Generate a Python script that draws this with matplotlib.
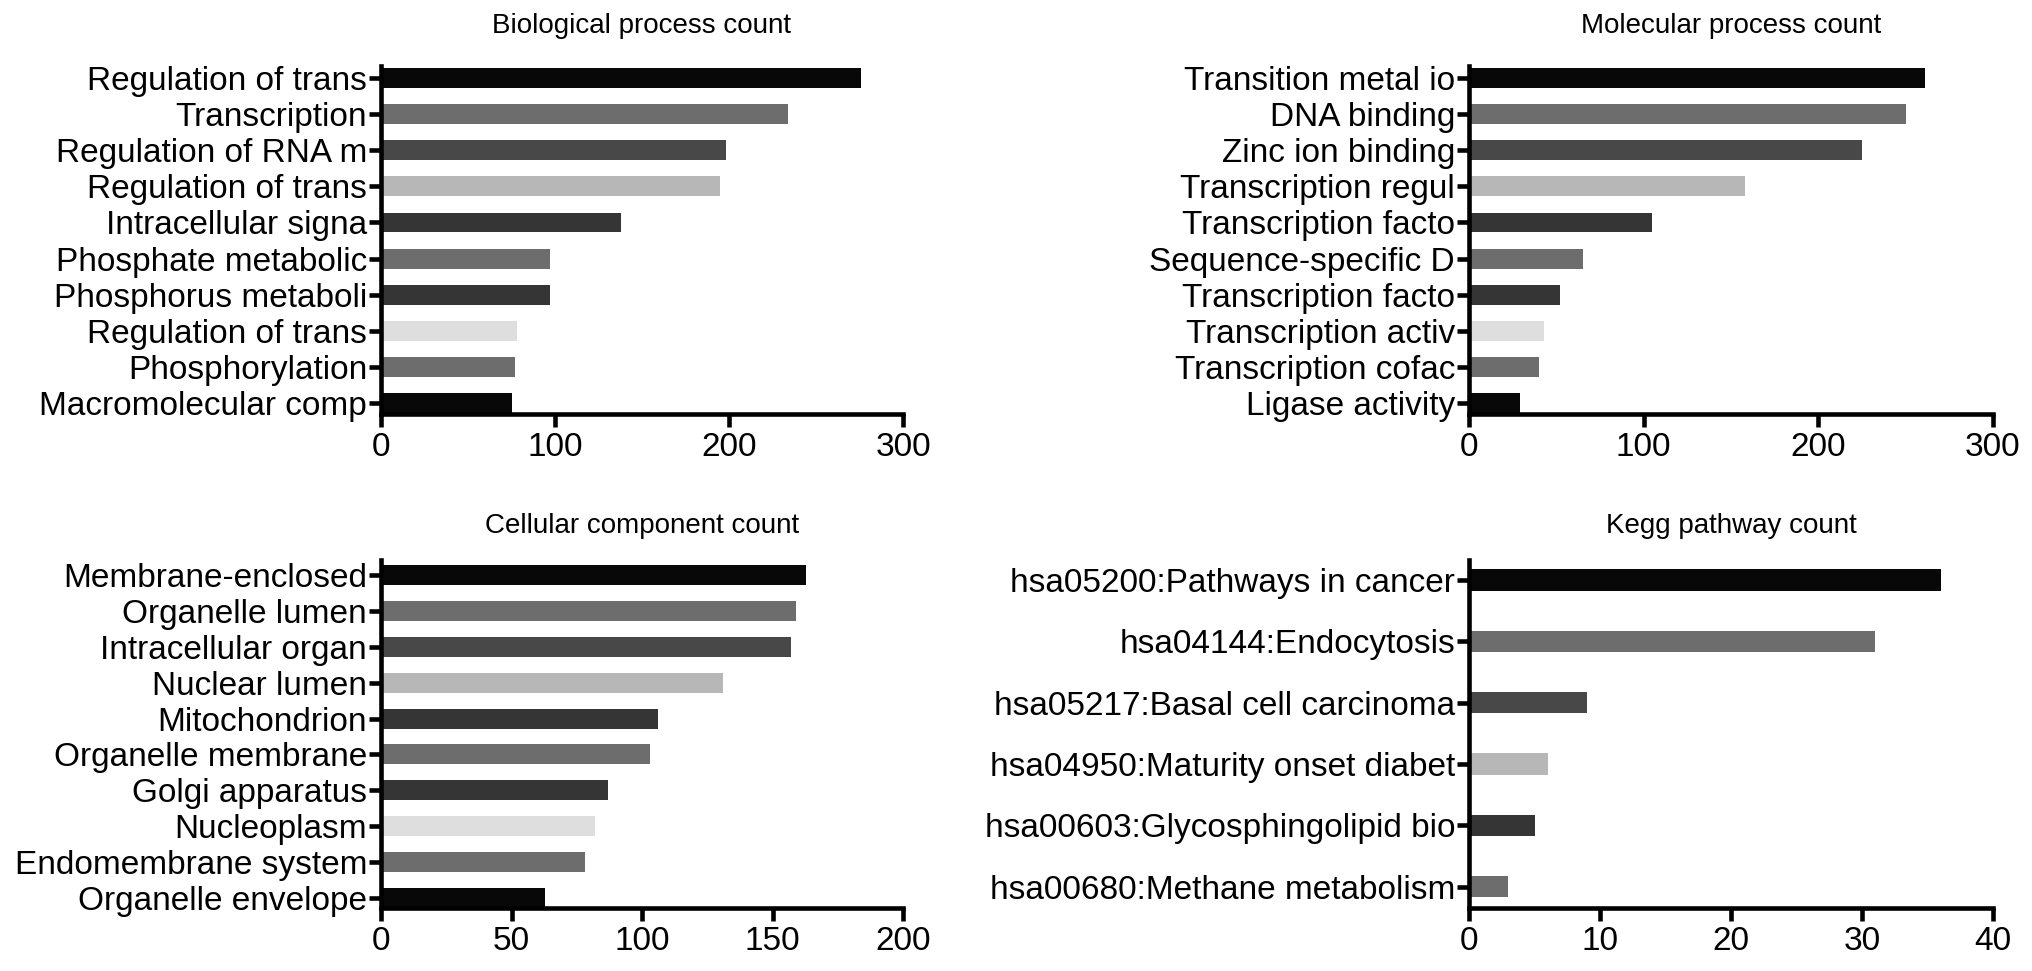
import matplotlib
matplotlib.use("Agg")
import matplotlib.pyplot as plt
from matplotlib import font_manager
import numpy as np

names = {f.name for f in font_manager.fontManager.ttflist}
narrow = 'Liberation Sans Narrow' in names
plt.rcParams['font.family'] = (['Liberation Sans Narrow'] if narrow else []) + ['Liberation Sans', 'DejaVu Sans']
k = 1 / 0.82 if narrow else 1.0

bp_labels = ["Regulation of trans", "Transcription", "Regulation of RNA m", "Regulation of trans",
             "Intracellular signa", "Phosphate metabolic", "Phosphorus metaboli", "Regulation of trans",
             "Phosphorylation", "Macromolecular comp"]
bp_values = [276, 234, 198, 195, 138, 97, 97, 78, 77, 75]

mf_labels = ["Transition metal io", "DNA binding", "Zinc ion binding", "Transcription regul",
             "Transcription facto", "Sequence-specific D", "Transcription facto", "Transcription activ",
             "Transcription cofac", "Ligase activity"]
mf_values = [261, 250, 225, 158, 105, 65, 52, 43, 40, 29]

cc_labels = ["Membrane-enclosed", "Organelle lumen", "Intracellular organ", "Nuclear lumen",
             "Mitochondrion", "Organelle membrane", "Golgi apparatus", "Nucleoplasm",
             "Endomembrane system", "Organelle envelope"]
cc_values = [163, 159, 157, 131, 106, 103, 87, 82, 78, 63]

kegg_labels = ["hsa05200:Pathways in cancer", "hsa04144:Endocytosis", "hsa05217:Basal cell carcinoma",
               "hsa04950:Maturity onset diabet", "hsa00603:Glycosphingolipid bio",
               "hsa00680:Methane metabolism"]
kegg_values = [36, 31, 9, 6, 5, 3]

bar_colors = ["#080808", "#6d6d6d", "#484848", "#b7b7b7", "#353535",
              "#6d6d6d", "#353535", "#dedede", "#6d6d6d", "#080808"]

fig = plt.figure(figsize=(20.32, 9.71), dpi=100)

LW = 3.3
TL = 9
LABEL_FS = 24 * k
TITLE_FS = 20 * k


def panel(rect, labels, values, title, title_y, xmax, xticks, ylim, barh):
    ax = fig.add_axes(rect)
    n = len(labels)
    pos = np.arange(n)[::-1]
    ax.barh(pos, values, height=barh, color=bar_colors[:n], edgecolor='none', zorder=2)
    ax.set_yticks(pos)
    ax.set_yticklabels(labels, fontsize=LABEL_FS)
    ax.set_xlim(0, xmax)
    ax.set_xticks(xticks)
    ax.set_xticklabels([str(t) for t in xticks], fontsize=LABEL_FS)
    ax.set_ylim(*ylim)
    for s in ['top', 'right']:
        ax.spines[s].set_visible(False)
    for s in ['left', 'bottom']:
        ax.spines[s].set_linewidth(LW)
        ax.spines[s].set_capstyle('projecting')
    ax.tick_params(axis='both', width=LW, length=TL, color='black')
    ax.tick_params(axis='y', pad=1)
    ax.tick_params(axis='x', pad=4)
    ax.set_title(title, fontsize=TITLE_FS, pad=0, y=title_y, va='baseline')
    return ax


top_b = 1 - 414 / 971
bot_b = 1 - 908 / 971
h = 348 / 971
lx, lw = 381 / 2032, 522 / 2032
rx, rw = 1469 / 2032, 524 / 2032

ty_top = 1 + 33 / 348
ty_bot = 1 + 27 / 348

panel([lx, top_b, lw, h], bp_labels, bp_values, "Biological process count", ty_top, 300,
      [0, 100, 200, 300], (-0.30, 9.33), 0.55)
panel([rx, top_b, rw, h], mf_labels, mf_values, "Molecular process count", ty_top, 300,
      [0, 100, 200, 300], (-0.30, 9.33), 0.55)
panel([lx, bot_b, lw, h], cc_labels, cc_values, "Cellular component count", ty_bot, 200,
      [0, 50, 100, 150, 200], (-0.28, 9.42), 0.56)
panel([rx, bot_b, rw, h], kegg_labels, kegg_values, "Kegg pathway count", ty_bot, 40,
      [0, 10, 20, 30, 40], (-0.35, 5.33), 0.35)

fig.savefig("out.png", dpi=100)
